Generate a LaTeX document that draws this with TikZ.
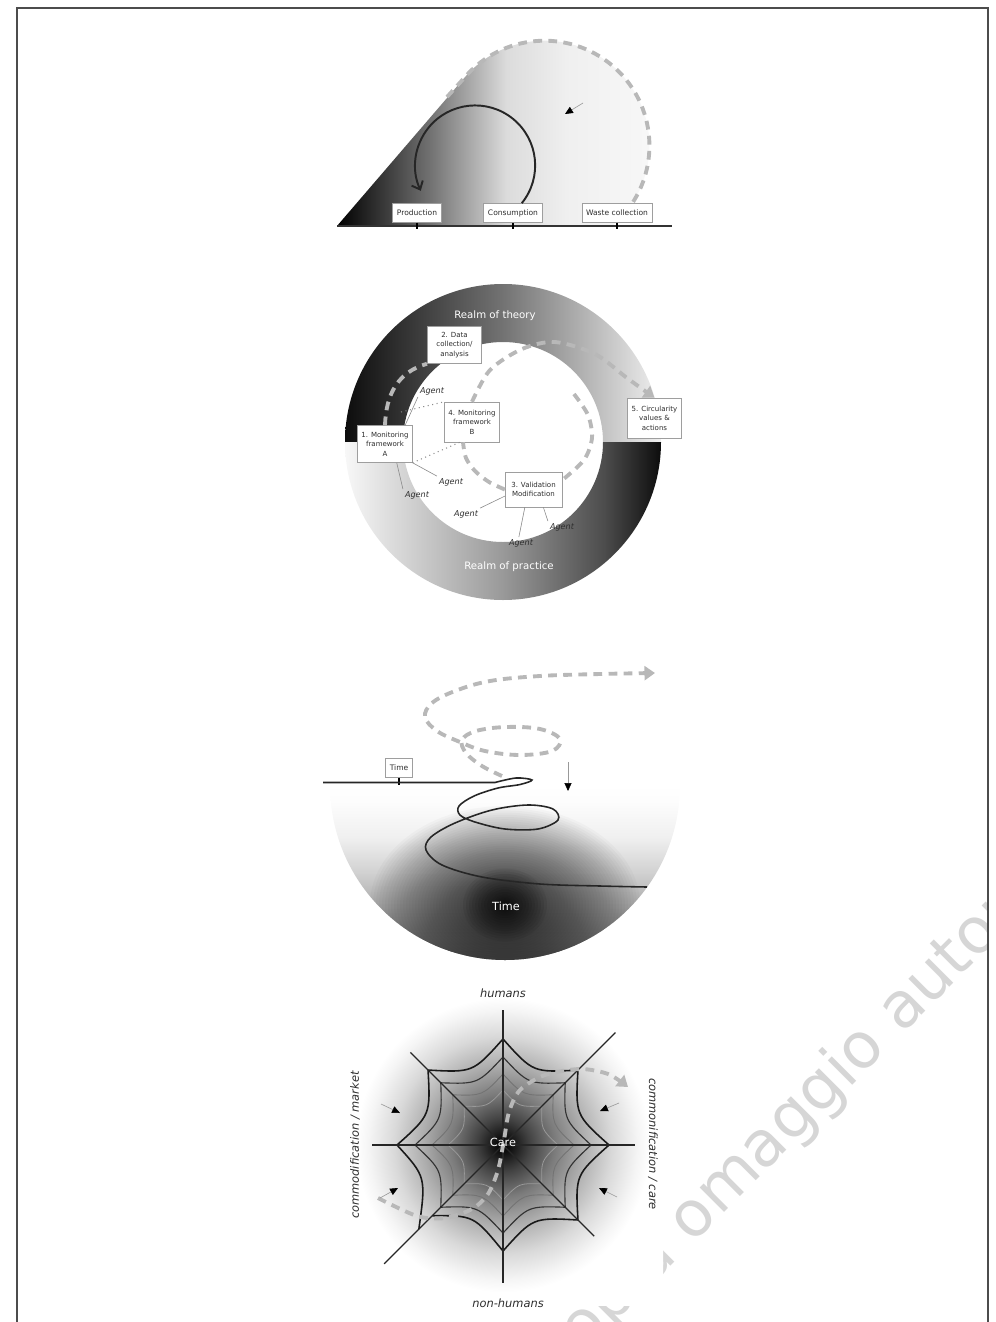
\documentclass[tikz,border=0pt]{standalone}
\usepackage{fontspec}
\setmainfont{DejaVu Sans}
\usepackage{tikz}
\usetikzlibrary{arrows.meta}

\definecolor{flowgray}{gray}{0.72}
\definecolor{boxgray}{gray}{0.62}
\definecolor{inkgray}{gray}{0.18}
\definecolor{markgray}{gray}{0.84}

% Schattierungen
\pgfdeclarehorizontalshading{dropshade}{100bp}{color(0bp)=(black); color(25bp)=(black); color(40bp)=(black!55); color(52bp)=(black!14); color(62bp)=(black!6); color(75bp)=(black!3); color(100bp)=(black!3)}
\pgfdeclarehorizontalshading{theoryshade}{100bp}{color(0bp)=(black); color(25bp)=(black!95); color(50bp)=(black!55); color(75bp)=(black!6); color(100bp)=(black!6)}
\pgfdeclarehorizontalshading{practiceshade}{100bp}{color(0bp)=(black!3); color(25bp)=(black!3); color(50bp)=(black!40); color(66bp)=(black!70); color(75bp)=(black!95); color(100bp)=(black!95)}
\pgfdeclareverticalshading{timebase}{100bp}{color(0bp)=(black!62); color(25bp)=(black!60); color(40bp)=(black!34); color(50bp)=(black!18); color(60bp)=(black!6); color(70bp)=(black!1); color(75bp)=(white); color(100bp)=(white)}
\pgfdeclareradialshading{careshade}{\pgfpoint{0bp}{0bp}}{color(0bp)=(black); color(1.5bp)=(black!92); color(4bp)=(black!75); color(8bp)=(black!52); color(12.5bp)=(black!32); color(17bp)=(black!15); color(21bp)=(black!4); color(23bp)=(white); color(50bp)=(white)}

\begin{document}
\begin{tikzpicture}[x=0.02cm, y=0.02cm, >=Latex,
  lbl/.style={draw=boxgray, line width=0.35pt, fill=white, text=inkgray, font=\fontsize{4.3pt}{5pt}\selectfont, minimum height=10.5pt, inner xsep=2.4pt},
  phase/.style={draw=boxgray, line width=0.35pt, fill=white, text=inkgray, align=center, font=\fontsize{4pt}{5.4pt}\selectfont, minimum width=31pt, minimum height=21pt, inner sep=1pt},
  agent/.style={text=inkgray, font=\fontsize{4.6pt}{5.5pt}\selectfont\itshape, inner sep=1pt},
  agentline/.style={draw=black!45, line width=0.35pt},
  linkline/.style={draw=black!45, line width=0.6pt, dotted},
  flow/.style={draw=flowgray, line width=2.2pt, dash pattern=on 5pt off 3.6pt},
  flowarrow/.style={flow, -{Triangle[length=6pt, width=8pt, color=flowgray]}},
  hint/.style={draw=black!40, line width=0.35pt, -{Triangle[length=4.5pt, width=4pt, color=black]}},
  cyclearrow/.style={draw=black!85, line width=1.1pt, -{Straight Barb[length=4pt, width=7pt]}},
  timeline/.style={draw=black!85, line width=0.9pt},
  realm/.style={text=white, font=\fontsize{5.8pt}{7pt}\selectfont},
  glow/.style={text=white, font=\fontsize{6.4pt}{7pt}\selectfont},
  axislbl/.style={text=inkgray, font=\fontsize{6.5pt}{7pt}\selectfont\itshape},
  spoke/.style={draw=black!85, line width=0.75pt},
  webouter/.style={draw=black!90, line width=0.9pt},
  webmid/.style={draw=black!80, line width=0.65pt},
  webinner/.style={draw=black!55, line width=0.5pt},
  webcore/.style={draw=black!40, line width=0.45pt}]
  \useasboundingbox (0,0) rectangle (995,-1322);

  % Wasserzeichen
  \begin{scope}
    \clip (17,-8) rectangle (988,-1322);
    \node[rotate=45, anchor=base, text=markgray, font=\fontsize{36pt}{36pt}\selectfont] (mark) at (803,-1134) {copia omaggio autore};
  \end{scope}

  % lineare Wirtschaft
  \begin{scope}
    \clip (337,-226) -- (464.6,-77.5) arc[start angle=139.5, end angle=-50.5, radius=105] -- cycle;
    \shade[shading=dropshade] (337,-30) rectangle (650,-230);
  \end{scope}
  \draw[line width=0.9pt, black!80] (337,-226) -- (672,-226);
  \node[lbl] (prod) at (417,-213) {Production};
  \node[lbl] (cons) at (513,-213) {Consumption};
  \node[lbl] (waste) at (617,-213) {Waste collection};
  \foreach \n in {prod, cons, waste}
    \draw[line width=0.6pt] (\n.south) -- ++(0,-6);
  \draw[flow] (447,-97) -- (464.6,-77.5) arc[start angle=139.5, end angle=-34, radius=105];
  \draw[cyclearrow] ([xshift=5pt]cons.north) arc[start angle=-39, end angle=205, radius=60];
  \draw[hint] (583,-103) -- (565,-114);

  % Ring: Theorie / Praxis
  \shade[shading=theoryshade] (345,-442) arc[start angle=180, end angle=0, radius=158]
    -- (603,-442) arc[start angle=0, end angle=180, radius=100] -- cycle;
  \shade[shading=practiceshade] (345,-442) arc[start angle=180, end angle=360, radius=158]
    -- (603,-442) arc[start angle=360, end angle=180, radius=100] -- cycle;
  \node[realm] (theory) at (495,-316) {Realm of theory};
  \node[realm] (practice) at (509,-567) {Realm of practice};

  \node[phase] (m1) at (385,-444) {1. Monitoring\\framework\\A};
  \node[phase] (m2) at (454.5,-345) {2. Data\\collection/\\analysis};
  \node[phase, minimum width=32.3pt, minimum height=19.8pt] (m3) at (533.5,-489.5) {3. Validation\\Modification};
  \node[phase, minimum height=22.7pt] (m4) at (472,-422) {4. Monitoring\\framework\\B};
  \node[phase, minimum height=22.7pt] (m5) at (654.5,-418) {5. Circularity\\values \&\\actions};

  \node[agent] (ag1) at (432,-391) {Agent};
  \node[agent] (ag2) at (451,-482) {Agent};
  \node[agent] (ag3) at (417,-495) {Agent};
  \node[agent] (ag4) at (466,-514) {Agent};
  \node[agent] (ag5) at (521,-543) {Agent};
  \node[agent] (ag6) at (562,-527) {Agent};

  \draw[flow] (m1.north) .. controls (386,-394) and (398,-372) .. (m2.south west);
  \draw[flowarrow] plot[smooth] coordinates {(m4.north) (490,-370) (522,-349) (555,-342) (595,-354) (627,-378) (m5.north)};
  \coordinate (split) at (574,-394);
  \draw[flow] plot[smooth] coordinates {(split) (588,-415) (592,-438) (584,-460) (m3.18)};
  \draw[flow] plot[smooth] coordinates {(m3.west) (489,-482) (475,-471) (466,-458) (m4.-114)};

  \draw[agentline] (m1.43) -- (ag1.south west);
  \draw[agentline] (m1.south east) -- (ag2.north west);
  \draw[agentline] (m1.-58) -- (ag3.north west);
  \draw[agentline] (m3.193) -- (ag4.north east);
  \draw[agentline] (m3.244) -- (ag5.110);
  \draw[agentline] (m3.-61) -- (ag6.north west);
  \coordinate (lk) at (401,-412);
  \draw[linkline] (lk) -- (m4.north west);
  \draw[linkline] (m1.south east) -- (m4.-121);

  % Zeit
  \begin{scope}
    \clip (330,-785) arc[start angle=180, end angle=360, radius=175] -- cycle;
    \shade[shading=timebase] (330,-785) rectangle (680,-960);
    \foreach \k in {1,...,45}
      \fill[black, opacity=0.025] (505,-905) ellipse[x radius={3*\k}, y radius={2.2*\k}];
    \foreach \k in {1,...,14}
      \fill[black, opacity=0.055] (505,-905) ellipse[x radius={3*\k}, y radius={2.6*\k}];
  \end{scope}
  \node[lbl] (tbox) at (399,-768) {Time};
  \draw[line width=0.6pt] (tbox.south) -- ++(0,-7);
  \draw[timeline] (323,-782.5) -- (495,-782.5) -- plot[smooth, tension=0.55] coordinates {(495,-782.5) (516,-778) (532,-780) (520,-784.5) (498,-788) (474,-796) (459,-806) (460,-815) (475,-822) (505,-829) (538,-829) (558,-820) (553,-809) (528,-805) (492,-810) (455,-823) (431,-837) (426,-850) (442,-865) (482,-877) (540,-884) (600,-886) (647,-887)};
  \draw[flowarrow] plot[smooth, tension=0.6] coordinates {(502,-776) (482,-766) (466,-753) (462,-740) (476,-731) (506,-727) (540,-729) (560,-739) (552,-751) (520,-755) (485,-751) (460,-742) (437,-731) (425,-717) (432,-703) (455,-691) (490,-681) (540,-676) (600,-674) (655,-673)};
  \draw[hint] (568,-762) -- (568,-791);
  \node[glow] (timec) at (506,-906) {Time};

  % Netz der Sorge
  \shade[shading=careshade] (343,-985) rectangle (663,-1305);
  \begin{scope}[shift={(503,-1145)}]
    \foreach \a/\ra/\rb in {0/106/106, 45/106/106, 90/106/106, 135/106/106, 180/106/119, 225/100/106, 270/106/106, 315/106/106}
      \draw[webouter] (\a:\ra) .. controls ({\a+22.5}:{0.37*(\ra+\rb)}) .. ({\a+45}:\rb);
    \foreach \r/\wsty in {88/webmid, 71/webinner, 55/webcore}
      \foreach \a in {0,45,...,315}
        \draw[\wsty] (\a:\r) .. controls ({\a+22.5}:{0.75*\r}) .. ({\a+45}:\r);
    \foreach \a/\len in {90/135, 45/159, 0/132, -45/129, -90/138, -135/168, 180/131, 135/131}
      \draw[spoke] (0,0) -- (\a:\len);
  \end{scope}
  \draw[flowarrow] plot[smooth] coordinates {(378,-1198) (417,-1216) (445,-1218) (472,-1209) (488,-1194) (498,-1170) (504,-1140) (509,-1112) (520,-1090) (545,-1075) (580,-1069) (608,-1074) (628,-1087)};
  \draw[hint] (381,-1104) -- (400,-1113);
  \draw[hint] (619,-1103) -- (600,-1111);
  \draw[hint] (380,-1198) -- (398,-1188);
  \draw[hint] (617,-1197) -- (599,-1188);
  \node[glow] (care) at (503,-1142) {Care};
  \node[axislbl] (hum) at (503,-993) {humans};
  \node[axislbl] (nonhum) at (508,-1303) {non-humans};
  \node[axislbl, rotate=90] (market) at (355,-1145) {commodification / market};
  \node[axislbl, rotate=-90] (commons) at (653,-1144) {commonification / care};

  % Rahmen
  \draw[line width=0.8pt, black!70] (17,-1322) -- (17,-8) -- (988,-8) -- (988,-1322);
\end{tikzpicture}
\end{document}
